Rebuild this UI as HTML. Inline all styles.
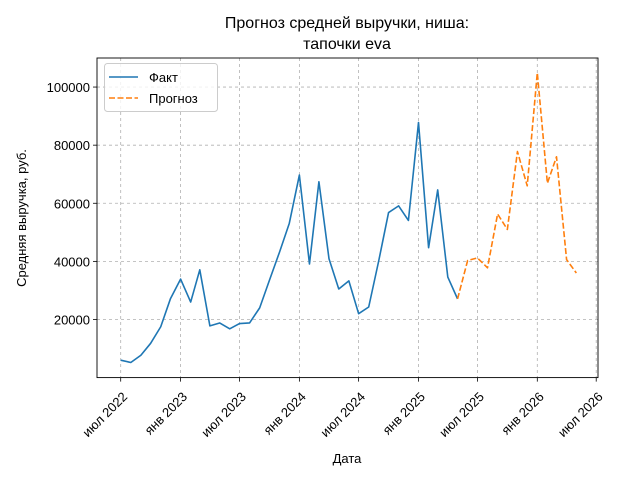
<!DOCTYPE html>
<html><head><meta charset="utf-8"><style>
html,body{margin:0;padding:0;background:#fff;}
svg{display:block;font-family:"Liberation Sans","DejaVu Sans",sans-serif;}
</style></head><body>
<svg id="chart" width="640" height="480" viewBox="0 0 640 480"></svg>
<script>
const factMonths = ["2022-07","2022-08","2022-09","2022-10","2022-11","2022-12","2023-01","2023-02","2023-03","2023-04","2023-05","2023-06","2023-07","2023-08","2023-09","2023-10","2023-11","2023-12","2024-01","2024-02","2024-03","2024-04","2024-05","2024-06","2024-07","2024-08","2024-09","2024-10","2024-11","2024-12","2025-01","2025-02","2025-03","2025-04","2025-05"];
const factValues = [6000,5200,7700,11800,17500,27200,33900,26000,37100,17800,18800,16800,18600,18800,24000,33500,43200,53100,69700,39100,67400,40900,30500,33300,22000,24300,40300,56800,59100,54100,87800,44700,64600,34600,27100];
const forecastMonths = ["2025-05","2025-06","2025-07","2025-08","2025-09","2025-10","2025-11","2025-12","2026-01","2026-02","2026-03","2026-04","2026-05"];
const forecastValues = [27100,40300,41200,37800,56300,51000,77800,66000,104900,66900,76000,40600,36000];
const xTickDates = ["2022-07","2023-01","2023-07","2024-01","2024-07","2025-01","2025-07","2026-01","2026-07"];
const xTickLabels = ["июл 2022","янв 2023","июл 2023","янв 2024","июл 2024","янв 2025","июл 2025","янв 2026","июл 2026"];
const yTicks = [20000,40000,60000,80000,100000];

const L=97,R=598,T=58,B=377.6;
const NS="http://www.w3.org/2000/svg";
const svg=document.getElementById('chart');
function d(s){const p=s.split('-');return Date.UTC(+p[0],+p[1]-1,1)/86400000;}
const d0=d("2022-07"),d1=d("2026-01");
const X0=120.7,X1=537.3;
function xs(s){return X0+(d(s)-d0)*(X1-X0)/(d1-d0);}
function ys(v){return B-(v-0)*(B-T)/110000;}
function el(tag,attrs,text){const e=document.createElementNS(NS,tag);for(const k in attrs)e.setAttribute(k,attrs[k]);if(text!==undefined)e.textContent=text;svg.appendChild(e);return e;}

// grid
xTickDates.forEach((t,i)=>{const x=xs(t);
 const g=el('line',{x1:x,x2:x,y1:T,y2:B,stroke:'#b0b0b0','stroke-width':0.8,'stroke-dasharray':'3,3'});
 
 
 const tk=el('line',{x1:x,x2:x,y1:B,y2:B+4,stroke:'#000','stroke-width':0.8});
 
 
 const tx=el('text',{x:x,y:B+18,'font-size':13,'text-anchor':'end',transform:`rotate(-45 ${x+6} ${B+10})`},xTickLabels[i]);
 
 
});
yTicks.forEach(v=>{const y=ys(v);
 const g=el('line',{x1:L,x2:R,y1:y,y2:y,stroke:'#b0b0b0','stroke-width':0.8,'stroke-dasharray':'3,3'});
 
 
 const tk=el('line',{x1:L-4,x2:L,y1:y,y2:y,stroke:'#000','stroke-width':0.8});
 
 
 const tx=el('text',{x:L-7,y:y+5,'font-size':13,'text-anchor':'end'},String(v));
 
 
});
// lines
const fact=el('polyline',{points:factMonths.map((m,i)=>xs(m)+','+ys(factValues[i])).join(' '),fill:'none',stroke:'#1f77b4','stroke-width':1.6,'stroke-linejoin':'round'});


const fc=el('polyline',{points:forecastMonths.map((m,i)=>xs(m)+','+ys(forecastValues[i])).join(' '),fill:'none',stroke:'#ff7f0e','stroke-width':1.6,'stroke-dasharray':'6,2.5','stroke-linejoin':'round'});


// frame
const fr=el('rect',{x:L,y:T,width:R-L,height:B-T,fill:'none',stroke:'#000','stroke-width':0.9});


// legend
const lg=el('rect',{x:104.5,y:63.5,width:113,height:48,rx:3,fill:'#fff','fill-opacity':0.8,stroke:'#ccc'});


const l1=el('line',{x1:109,x2:138,y1:77,y2:77,stroke:'#1f77b4','stroke-width':1.6});


const t1=el('text',{x:149,y:82,'font-size':13},'Факт');


const l2=el('line',{x1:109,x2:138,y1:98,y2:98,stroke:'#ff7f0e','stroke-width':1.6,'stroke-dasharray':'6,2.5'});


const t2=el('text',{x:149,y:103,'font-size':13},'Прогноз');


// titles
const ti1=el('text',{x:347,y:28,'font-size':16,'text-anchor':'middle'},'Прогноз средней выручки, ниша:');


const ti2=el('text',{x:347,y:49,'font-size':16,'text-anchor':'middle'},'тапочки eva');


const xl=el('text',{x:347,y:463,'font-size':13,'text-anchor':'middle'},'Дата');


const yl=el('text',{x:26,y:218,'font-size':13,'text-anchor':'middle',transform:'rotate(-90 26 218)'},'Средняя выручка, руб.');


</script>
</body></html>
